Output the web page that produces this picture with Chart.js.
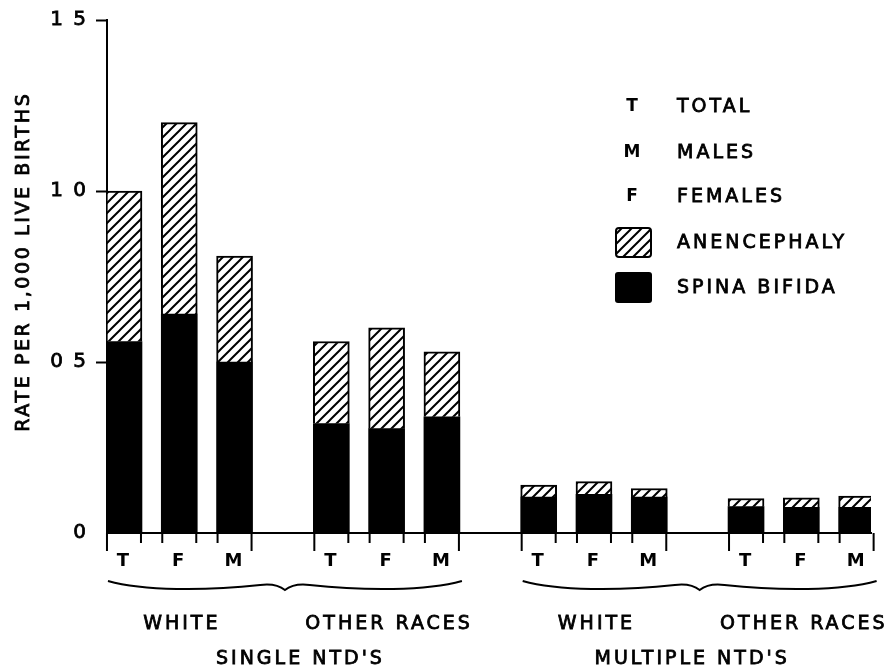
<!DOCTYPE html>
<html>
<head>
<meta charset="utf-8">
<script src="https://cdn.jsdelivr.net/npm/chart.js@4.4.1/dist/chart.umd.min.js"></script>
<style>
  html, body { margin: 0; padding: 0; background: #fff; }
  canvas { display: block; }
</style>
</head>
<body>
<canvas id="c" width="889" height="671"></canvas>
<script>
// Rates of neural tube defects per 1,000 live births
const sexCodes = ['T', 'F', 'M'];
const raceGroups = ['WHITE', 'OTHER RACES', 'WHITE', 'OTHER RACES'];
const ntdTypes = ["SINGLE NTD'S", "MULTIPLE NTD'S"];
const spinaBifida = [0.56, 0.64, 0.50, 0.32, 0.305, 0.34, 0.105, 0.113, 0.105, 0.077, 0.075, 0.075];
const anencephaly = [0.44, 0.56, 0.31, 0.24, 0.295, 0.19, 0.035, 0.037, 0.025, 0.024, 0.028, 0.033];
const yTickValues = [0, 0.5, 1, 1.5];
const yTickText = ['0', '0 5', '1 0', '1 5'];
const legendKeys = ['T', 'M', 'F'];
const legendKeyNames = ['TOTAL', 'MALES', 'FEMALES'];
const seriesNames = ['ANENCEPHALY', 'SPINA BIFIDA'];
const yTitle = 'RATE PER 1,000 LIVE BIRTHS';

const FONT = '"DejaVu Sans", sans-serif';
const GROUP_GAP = 0.75;               // extra space between groups of three bars
const CAPTION_SHIFT = [14, -9];       // caption offset from each brace's middle
const xPos = spinaBifida.map((_, i) => Math.floor(i / 3) * (3 + GROUP_GAP) + (i % 3));

const canvas = document.getElementById('c');
const mainCtx = canvas.getContext('2d');

function makeHatch(step, lw) {
  const c = document.createElement('canvas');
  c.width = step; c.height = step;
  const g = c.getContext('2d');
  g.fillStyle = '#fff';
  g.fillRect(0, 0, step, step);
  g.strokeStyle = '#000';
  g.lineWidth = lw;
  g.beginPath();
  g.moveTo(0, step); g.lineTo(step, 0);
  g.moveTo(-step / 2, step / 2); g.lineTo(step / 2, -step / 2);
  g.moveTo(step / 2, step * 1.5); g.lineTo(step * 1.5, step / 2);
  g.stroke();
  return mainCtx.createPattern(c, 'repeat');
}
const hatch = makeHatch(10, 2);

// lettering: filled and lightly stroked for a heavier pen line
function text(ctx, str, x, y, size, opts = {}) {
  const spacing = opts.spacing || 0;
  const align = opts.align || 'center';
  const stroke = opts.stroke === undefined ? 0.8 : opts.stroke;
  ctx.save();
  ctx.font = (opts.weight || 'normal') + ' ' + size + 'px ' + FONT;
  ctx.letterSpacing = spacing + 'px';
  ctx.fillStyle = '#000';
  ctx.strokeStyle = '#000';
  ctx.textBaseline = 'middle';
  ctx.textAlign = align;
  const dx = align === 'center' ? spacing / 2 : 0;
  ctx.fillText(str, x + dx, y);
  if (stroke > 0) {
    ctx.lineWidth = stroke;
    ctx.strokeText(str, x + dx, y);
  }
  ctx.restore();
}

function brace(ctx, x0, x1, y0) {
  const xc = (x0 + x1) / 2, h = xc - x0;
  ctx.beginPath();
  ctx.moveTo(x0, y0);
  ctx.bezierCurveTo(x0 + 0.2 * h, y0 + 10, x0 + 0.55 * h, y0 + 10, x0 + 0.86 * h, y0 + 4);
  ctx.quadraticCurveTo(xc - 0.05 * h, y0 + 2, xc, y0 + 9);
  ctx.quadraticCurveTo(xc + 0.05 * h, y0 + 2, x1 - 0.86 * h, y0 + 4);
  ctx.bezierCurveTo(x1 - 0.55 * h, y0 + 10, x1 - 0.2 * h, y0 + 10, x1, y0);
  ctx.stroke();
}

const decorations = {
  id: 'decorations',
  beforeDraw(chart) {
    chart.ctx.letterSpacing = '2px';
  },
  afterDraw(chart) {
    const ctx = chart.ctx;
    const meta = chart.getDatasetMeta(0);
    const base = chart.scales.y.getPixelForValue(0);
    ctx.save();
    ctx.letterSpacing = '0px';
    ctx.strokeStyle = '#000';
    ctx.lineWidth = 2;

    // ticks under the baseline at each bar edge
    meta.data.forEach((bar, i) => {
      const half = bar.width / 2;
      const k = i % 3;
      const lenL = k === 0 ? 18 : 10;
      const lenR = k === 2 ? 18 : 10;
      ctx.beginPath();
      ctx.moveTo(bar.x - half + 1, base);
      ctx.lineTo(bar.x - half + 1, base + lenL);
      ctx.moveTo(bar.x + half - 1, base);
      ctx.lineTo(bar.x + half - 1, base + lenR);
      ctx.stroke();
    });

    // braces and group captions
    for (let t = 0; t < 2; t++) {
      const first = meta.data[t * 6];
      const last = meta.data[t * 6 + 5];
      const x0 = first.x - first.width / 2 + 2;
      const x1 = last.x + last.width / 2 + 2;
      ctx.lineWidth = 2;
      brace(ctx, x0, x1, 581);
      text(ctx, ntdTypes[t], (x0 + x1) / 2 + CAPTION_SHIFT[t], 659, 19, { spacing: 3 });
    }
    for (let g = 0; g < 4; g++) {
      const mid = meta.data[g * 3 + 1];
      text(ctx, raceGroups[g], mid.x + 1, 624, 19, { spacing: 3 });
    }

    // axis title
    ctx.save();
    ctx.translate(24, 263);
    ctx.rotate(-Math.PI / 2);
    text(ctx, yTitle, 0, 0, 19, { spacing: 2.6 });
    ctx.restore();

    // key
    const rows = [107, 153, 197];
    legendKeys.forEach((k, i) => {
      text(ctx, k, 632, rows[i], 17, { weight: 'bold', stroke: 0 });
      text(ctx, legendKeyNames[i], 677, rows[i], 19, { spacing: 3, align: 'left' });
    });
    ctx.lineWidth = 2;
    ctx.strokeStyle = '#000';
    ctx.beginPath();
    ctx.roundRect(616, 228, 35, 29, 3);
    ctx.fillStyle = hatch;
    ctx.fill();
    ctx.stroke();
    ctx.beginPath();
    ctx.roundRect(615, 272, 37, 31, 3);
    ctx.fillStyle = '#000';
    ctx.fill();
    text(ctx, seriesNames[0], 677, 243, 19, { spacing: 3, align: 'left' });
    text(ctx, seriesNames[1], 677, 288, 19, { spacing: 3, align: 'left' });
    ctx.restore();
  }
};

new Chart(canvas, {
  type: 'bar',
  data: {
    datasets: [
      {
        label: seriesNames[1],
        data: spinaBifida.map((v, i) => ({ x: xPos[i], y: v })),
        backgroundColor: '#000',
        borderWidth: 0,
        stack: 'ntd',
        barThickness: 36
      },
      {
        label: seriesNames[0],
        data: anencephaly.map((v, i) => ({ x: xPos[i], y: v })),
        backgroundColor: hatch,
        borderColor: '#000',
        borderWidth: { top: 2, left: 2, right: 2, bottom: 0 },
        borderSkipped: false,
        stack: 'ntd',
        barThickness: 36
      }
    ]
  },
  options: {
    responsive: false,
    devicePixelRatio: 1,
    animation: false,
    layout: { padding: { top: 19, right: 18, bottom: 98, left: 0 } },
    plugins: { legend: { display: false }, tooltip: { enabled: false } },
    scales: {
      x: {
        type: 'linear',
        offset: false,
        min: -0.307,
        max: 13.51,
        grid: { display: false, drawTicks: false, offset: false },
        border: { display: true, color: '#000', width: 2 },
        afterBuildTicks: s => { s.ticks = xPos.map(v => ({ value: v })); },
        afterFit: s => { s.height = 40; },
        ticks: {
          autoSkip: false,
          maxRotation: 0,
          padding: 18,
          color: '#000',
          font: { family: FONT, size: 18, weight: 'bold' },
          callback: (v, i) => sexCodes[i % 3]
        }
      },
      y: {
        min: 0,
        max: 1.5,
        stacked: true,
        afterBuildTicks: s => { s.ticks = yTickValues.map(v => ({ value: v })); },
        afterFit: s => { s.width = 107; },
        grid: {
          display: true,
          drawOnChartArea: false,
          drawTicks: true,
          tickLength: 11,
          tickWidth: 2,
          tickColor: c => (c.tick && c.tick.value === 0 ? 'rgba(0,0,0,0)' : '#000')
        },
        border: { display: true, color: '#000', width: 2 },
        ticks: {
          padding: 8,
          color: '#000',
          textStrokeColor: '#000',
          textStrokeWidth: 0.8,
          font: { family: FONT, size: 20 },
          callback: (v, i) => yTickText[i]
        }
      }
    }
  },
  plugins: [decorations]
});
</script>
</body>
</html>
